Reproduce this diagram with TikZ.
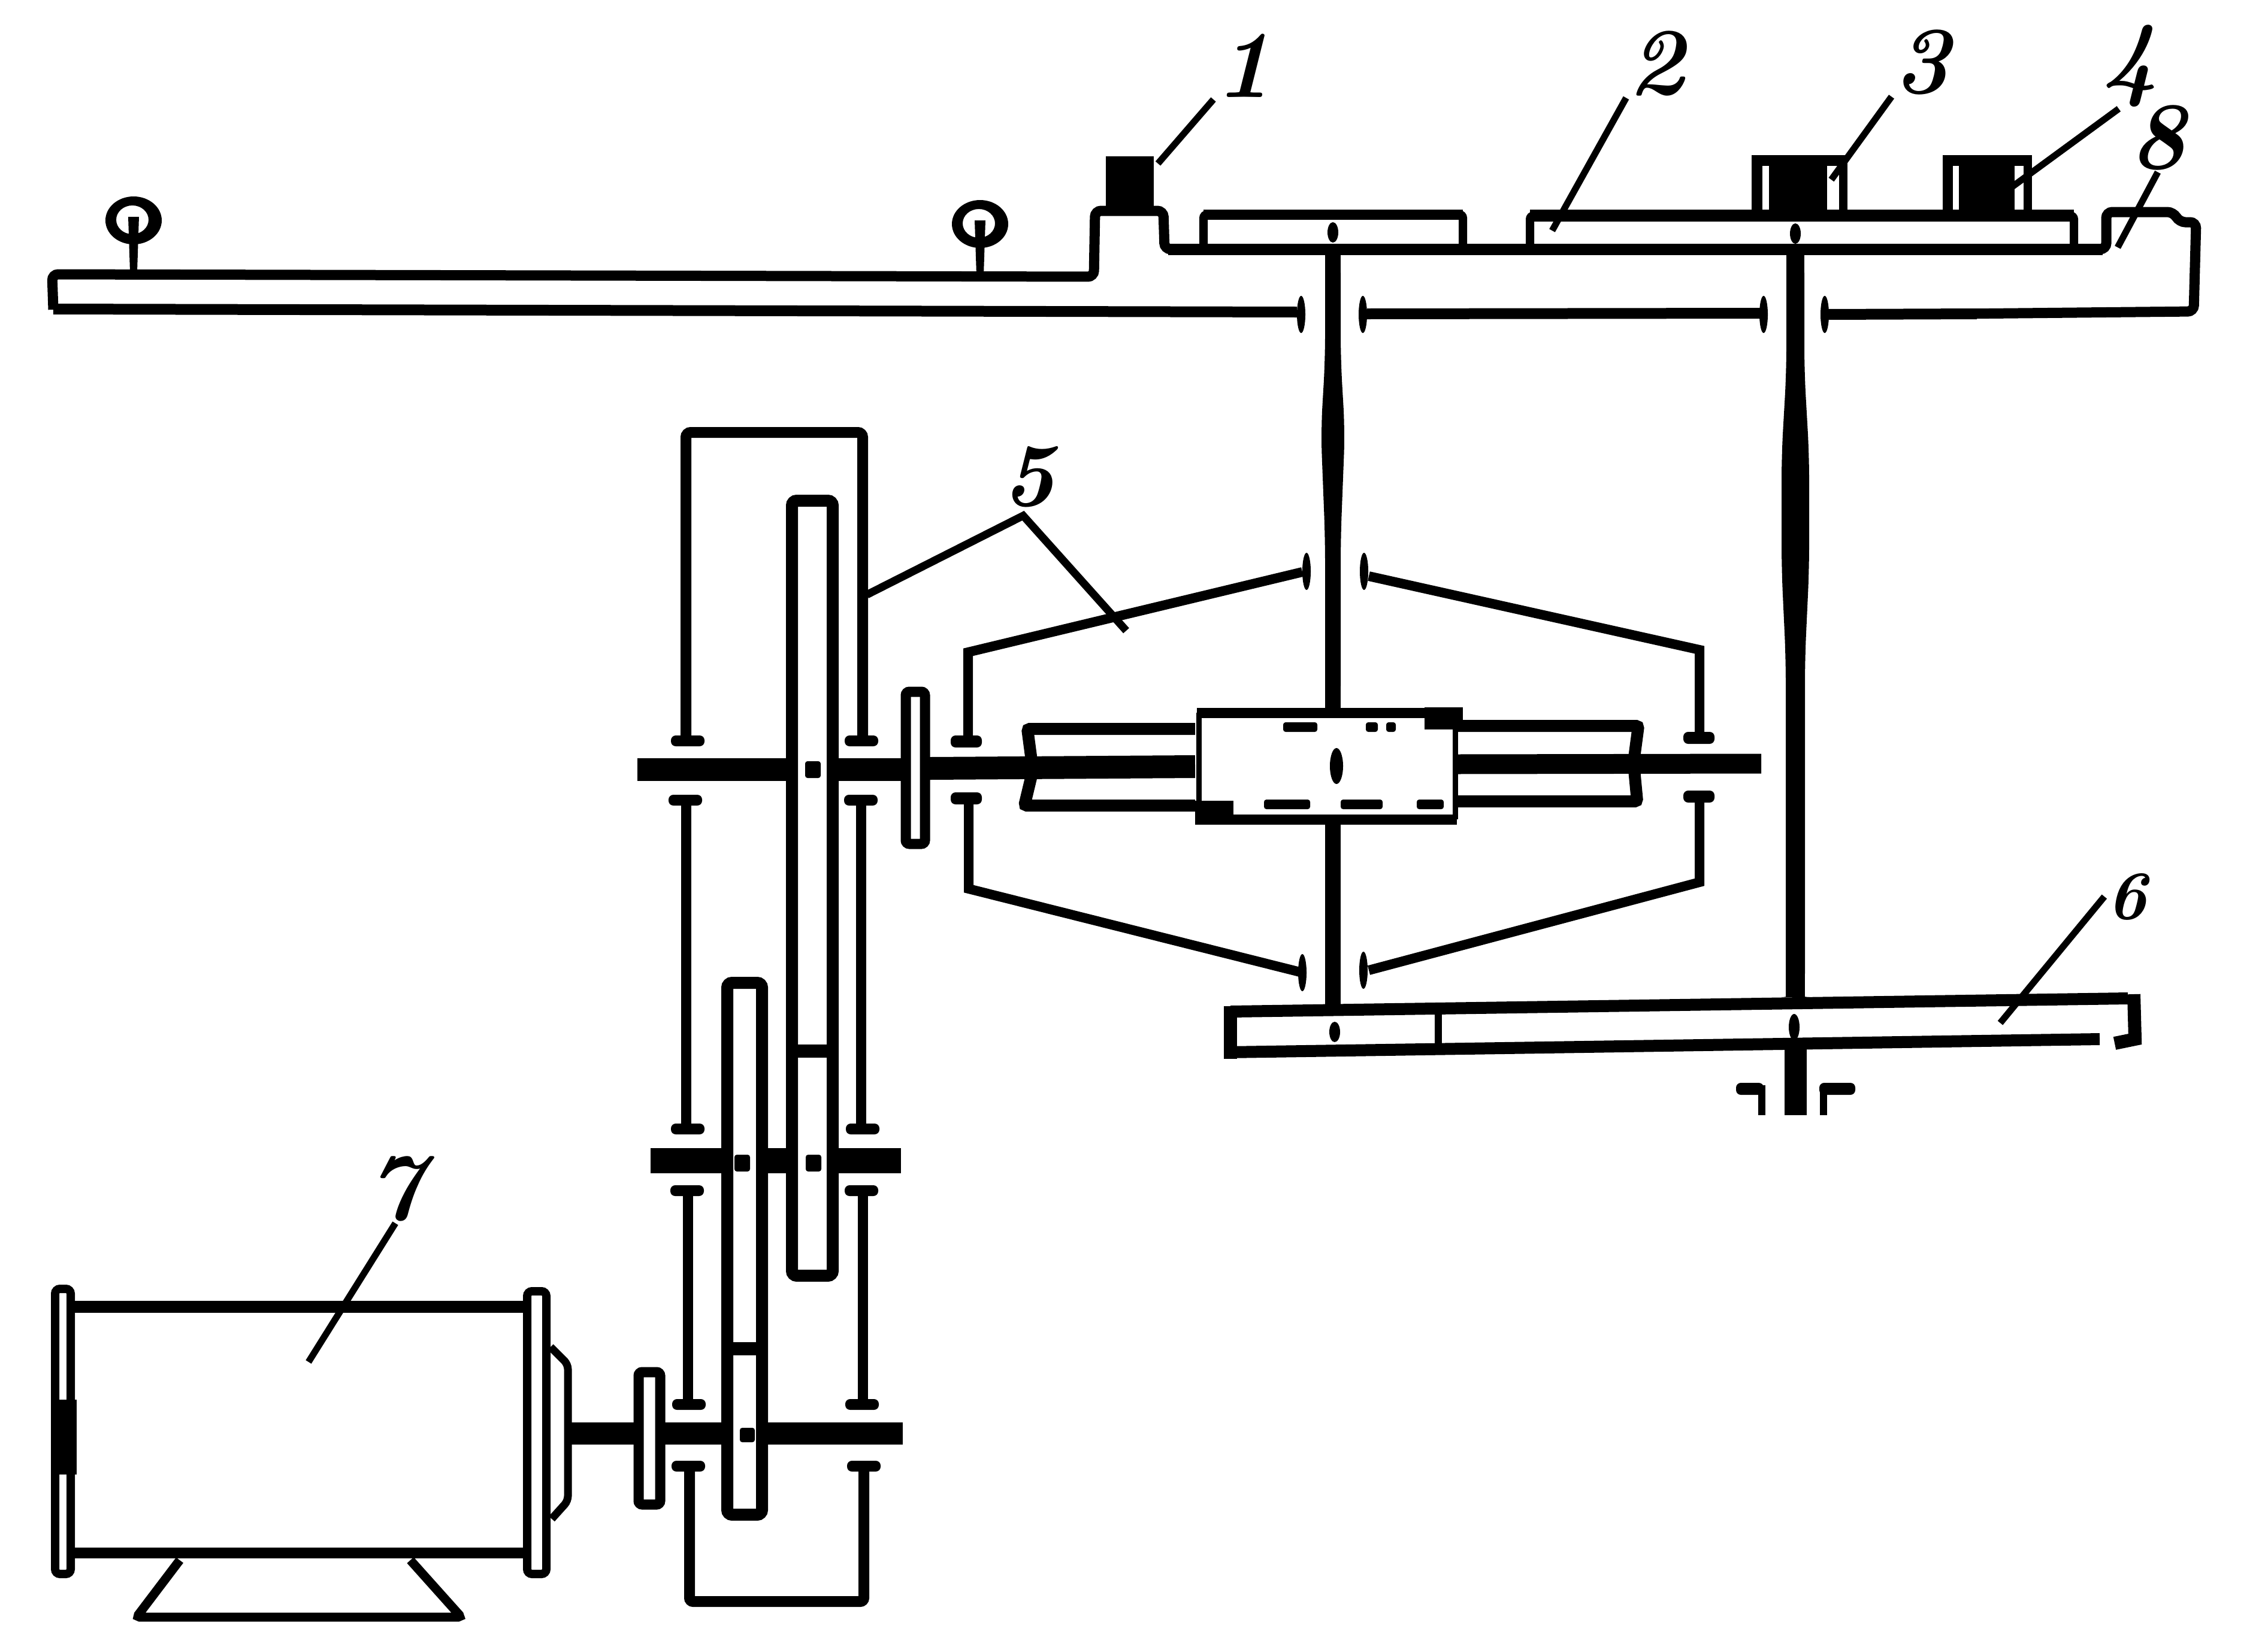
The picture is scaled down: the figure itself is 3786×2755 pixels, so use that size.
\documentclass[tikz,border=0pt]{standalone}
\usepackage{tikz}
\tikzset{
    wall/.style={line width=16pt},
    heavy/.style={line width=20pt},
    leader/.style={line width=11pt},
    figlabel/.style={inner sep=3pt,font=\fontsize{160}{160}\selectfont\bfseries\itshape},
}
\begin{document}
\begin{tikzpicture}[x=1pt,y=-1pt]
\useasboundingbox (0,0) rectangle (3786,2755);

% Track and deck
\draw[wall,line width=17pt,rounded corners=10pt] (89,517) -- (87,458) -- (1826,462) -- (1828,352) -- (1942,352) -- (1944,416) -- (3516,416) -- (3516,354) -- (3628,354) -- (3638,371) -- (3666,371) -- (3662,520) -- (3270,524);
\draw[line width=19pt] (1950,416) -- (3510,416);
\draw[wall,line width=18pt] (89,516) -- (2165,521);
\draw[wall,line width=18pt] (2282,524) -- (2940,523);
\draw[line width=18pt] (3050,525) -- (3300,524);

% Rail heads
\foreach \x/\y in {223/368,1636/374} {
    \fill[even odd rule] (\x,\y) ellipse [x radius=47,y radius=40] (\x-2,\y-1) ellipse [x radius=27,y radius=24];
    \fill (\x-9,\y-6) -- (\x+9,\y-6) -- (\x+6,\y+85) -- (\x-6,\y+85) -- cycle;
}

% Wheels on the deck
\draw[wall,line width=14pt,rounded corners=6pt] (2009,416) -- (2009,358) -- (2442,358) -- (2442,416);
\draw[heavy,line width=17pt] (2009,358) -- (2442,358);
\draw[wall,line width=14pt,rounded corners=6pt] (2554,416) -- (2554,360) -- (3462,360) -- (3462,416);
\draw[heavy] (2554,360) -- (3462,360);

% Blocks
\fill (1846,261) rectangle (1926,352);
\fill (2953,259) rectangle (3050,352);
\fill (2924,259) rectangle (3084,277);
\draw[line width=18pt] (2933,265) -- (2933,352);
\draw[line width=14pt] (3077,265) -- (3077,352);
\fill (3270,259) rectangle (3363,352);
\fill (3243,259) rectangle (3392,277);
\draw[line width=17pt] (3251,265) -- (3251,352);
\draw[line width=14pt] (3385,265) -- (3385,352);

% Vertical shafts
\fill[rounded corners=40pt] (2212,416) -- (2238,416) -- (2238,600) -- (2245,720) -- (2238,900) -- (2238,1185) -- (2212,1185) -- (2212,900) -- (2205,720) -- (2212,600) -- cycle;
\fill[rounded corners=40pt] (2982,416) -- (3012,416) -- (3012,620) -- (3020,760) -- (3020,950) -- (3013,1100) -- (3013,1665) -- (2981,1665) -- (2981,1100) -- (2974,950) -- (2974,760) -- (2982,620) -- cycle;
\fill (2212,416) rectangle (2238,470);
\fill (2982,416) rectangle (3012,470);
\fill (2212,1130) rectangle (2238,1185);
\fill (2981,1610) rectangle (3013,1665);
\fill (2212,1375) rectangle (2238,1680);
\fill (2979,1745) rectangle (3016,1862);
\foreach \x/\y in {2225/388,2997/390,2228/1723} {
    \fill (\x,\y) ellipse [x radius=9,y radius=17];
}
\fill (2995,1715) ellipse [x radius=9,y radius=22];

% Bearing marks
\foreach \x/\y in {2172/525,2275/525,2944/525,3046/525,2181/954,2277/954,2174/1624,2276/1620} {
    \fill (\x,\y) ellipse [x radius=7,y radius=31];
}

% Wheel at the bottom
\draw[wall,line width=20pt] (2054,1689) -- (3552,1667);
\draw[wall,line width=22pt] (2054,1680) -- (2054,1768);
\draw[wall,line width=20pt] (2046,1757) -- (3505,1735);
\draw[wall,line width=22pt] (3562,1660) -- (3564,1735) -- (3530,1742);
\draw[line width=12pt] (2401,1686) -- (2401,1752);
\draw[line width=12pt] (2941,1812) -- (2941,1862);
\draw[line width=12pt] (3044,1812) -- (3044,1862);
\fill[rounded corners=8pt] (2898,1808) rectangle (2944,1828);
\fill[rounded corners=8pt] (3037,1808) rectangle (3097,1828);

% Cone casing
\draw[wall] (1616,1232) -- (1616,1089) -- (2174,955);
\draw[wall] (2285,962) -- (2837,1085) -- (2837,1232);
\draw[wall] (1617,1330) -- (1617,1484) -- (2174,1624);
\draw[wall] (2285,1620) -- (2837,1473) -- (2837,1330);
\foreach \x/\y in {1613/1238,2836/1232,1613/1333,2836/1330} {
    \fill[rounded corners=8pt] (\x-26,\y-10) rectangle (\x+26,\y+10);
}

% Input shaft
\draw[line width=38pt] (1064,1285) -- (1314,1285);
\draw[line width=38pt] (1399,1285) -- (1504,1285);
\draw[line width=38pt] (1552,1283) -- (1995,1280);
\draw[line width=33pt] (2429,1276) -- (2940,1275);

% Sleeves and hub
\draw[heavy,rounded corners=4pt] (1995,1217) -- (1715,1217) -- (1722,1270);
\draw[heavy,rounded corners=4pt] (1995,1345) -- (1710,1345) -- (1722,1295);
\draw[heavy,rounded corners=4pt] (2430,1212) -- (2735,1212) -- (2728,1265);
\draw[heavy,rounded corners=4pt] (2430,1338) -- (2733,1338) -- (2728,1285);
\draw[wall,line width=17pt] (1998,1190) -- (2432,1190);
\draw[wall,line width=17pt] (1998,1368) -- (2432,1368);
\draw[wall,line width=9pt] (2001,1190) -- (2001,1368);
\draw[wall,line width=9pt] (2429,1190) -- (2429,1368);
\fill (2378,1181) rectangle (2442,1218);
\fill (1995,1337) rectangle (2059,1377);
\foreach \x/\w in {2142/57,2280/20,2314/16} {
    \fill[rounded corners=4pt] (\x,1206) rectangle (\x+\w,1222);
}
\foreach \x/\w in {2110/77,2238/70,2365/45} {
    \fill[rounded corners=4pt] (\x,1335) rectangle (\x+\w,1351);
}
\fill (2231,1279) ellipse [x radius=11,y radius=30];

% Gear case
\draw[wall,line width=18pt,rounded corners=8pt] (1145,1235) -- (1145,722) -- (1440,722) -- (1440,1235);
\foreach \x/\y in {1148/1237,1438/1237,1144/1336,1437/1336,1148/1885,1440/1885,1147/1988,1438/1988,1150/2345,1439/2345,1149/2448,1442/2448} {
    \fill[rounded corners=8pt] (\x-28,\y-9) rectangle (\x+28,\y+9);
}
\foreach \x/\a/\b in {1145/1336/1885,1437/1336/1885,1148/1988/2345,1440/1988/2345} {
    \draw[line width=17pt] (\x,\a) -- (\x,\b);
}
\draw[wall,line width=18pt,rounded corners=6pt] (1151,2448) -- (1151,2674) -- (1442,2674) -- (1442,2448);

% Gears
\draw[wall,line width=20pt,rounded corners=8pt] (1322,836) rectangle (1390,2130);
\draw[line width=22pt] (1322,1755) -- (1390,1755);
\draw[wall,line width=20pt,rounded corners=8pt] (1214,1641) rectangle (1272,2529);
\draw[line width=22pt] (1214,2252) -- (1272,2252);
\foreach \x/\y in {1357/1285,1239/1942,1358/1942} {
    \fill[rounded corners=4pt] (\x-13,\y-14) rectangle (\x+13,\y+14);
}
\fill[rounded corners=4pt] (1235,2384) rectangle (1260,2408);

% Pulleys
\draw[wall,line width=17pt,rounded corners=6pt] (1512,1155) rectangle (1544,1409);
\draw[wall,line width=17pt,rounded corners=6pt] (1066,2291) rectangle (1102,2512);

% Lower shafts
\draw[line width=42pt] (1086,1938) -- (1207,1938);
\draw[line width=42pt] (1270,1938) -- (1318,1938);
\draw[line width=42pt] (1395,1938) -- (1504,1938);
\draw[line width=37pt] (949,2393) -- (1060,2393);
\draw[line width=37pt] (1105,2393) -- (1209,2393);
\draw[line width=37pt] (1279,2393) -- (1507,2393);

% Motor
\draw[wall,line width=14pt,rounded corners=8pt] (92,2152) rectangle (118,2628);
\fill (85,2337) rectangle (128,2462);
\draw[wall,line width=14pt,rounded corners=8pt] (880,2156) rectangle (912,2628);
\draw[line width=20pt] (118,2182) -- (880,2182);
\draw[line width=18pt] (118,2593) -- (880,2593);
\draw[line width=13pt,rounded corners=8pt] (919,2249) -- (948,2278) -- (948,2506) -- (921,2536);
\draw[line width=15pt,rounded corners=5pt] (300,2605) -- (228,2700) -- (770,2700) -- (685,2605);

% Labels
\node[figlabel] (lab1) at (2076,110) {1};
\node[figlabel] (lab2) at (2765,106) {2};
\node[figlabel] (lab3) at (3208,104) {3};
\node[figlabel] (lab4) at (3556,110) {4};
\node[figlabel] (lab8) at (3602,230) {8};
\node[figlabel,font=\fontsize{150}{150}\selectfont\bfseries\itshape] (lab5) at (1717,796) {5};
\node[figlabel,font=\fontsize{115}{115}\selectfont\bfseries\itshape] (lab6) at (3550,1497) {6};
\node[figlabel] (lab7) at (660,1985) {7};

% Leader lines
\coordinate (end1) at (1933,273);
\coordinate (end2) at (2591,385);
\coordinate (end3) at (3057,300);
\coordinate (end4) at (3356,314);
\coordinate (end8) at (3535,413);
\coordinate (end6) at (3339,1708);
\coordinate (end7) at (515,2274);
\coordinate (apex5) at (1708,861);
\coordinate (end5a) at (1447,993);
\coordinate (end5b) at (1880,1053);
\draw[leader] (lab1.south west) -- (end1);
\draw[leader] (lab2.south west) -- (end2);
\draw[leader] (lab3.south west) -- (end3);
\draw[leader] (lab4.-105) -- (end4);
\draw[leader] (lab8.south) -- (end8);
\draw[leader] (lab6.west) -- (end6);
\draw[leader] (lab7.south) -- (end7);
\draw[leader,line width=13pt] (end5a) -- (apex5) -- (end5b);
\end{tikzpicture}
\end{document}
